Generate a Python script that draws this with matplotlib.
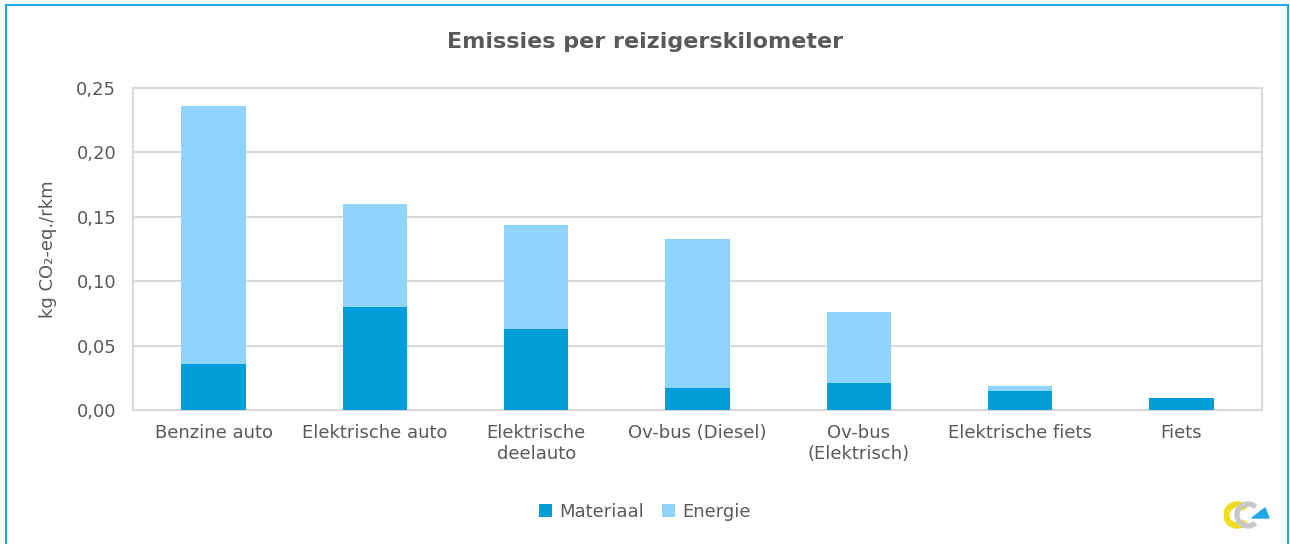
import matplotlib
matplotlib.use("Agg")
import matplotlib.pyplot as plt
import numpy as np
from matplotlib.patches import Rectangle, Wedge, Polygon

categories = ["Benzine auto", "Elektrische auto", "Elektrische\ndeelauto",
              "Ov-bus (Diesel)", "Ov-bus\n(Elektrisch)", "Elektrische fiets", "Fiets"]
materiaal = [0.036, 0.080, 0.063, 0.017, 0.021, 0.015, 0.0095]
energie = [0.200, 0.080, 0.081, 0.116, 0.055, 0.0035, 0.0]
yticks = [0.0, 0.05, 0.10, 0.15, 0.20, 0.25]

C_MAT = "#009DD9"
C_EN = "#8FD3FF"
TXT = "#595959"
GRID = "#D9D9D9"

plt.rcParams["font.family"] = ["DejaVu Sans"]

fig = plt.figure(figsize=(12.9, 5.44), dpi=100)
ax = fig.add_axes([133 / 1290, 1 - 410 / 544, (1262 - 133) / 1290, 322 / 544])

x = np.arange(len(categories))
ax.bar(x, materiaal, width=0.4, color=C_MAT, label="Materiaal", zorder=3)
ax.bar(x, energie, width=0.4, bottom=materiaal, color=C_EN, label="Energie", zorder=3)

ax.set_xlim(-0.5, len(categories) - 0.5)
ax.set_ylim(0, 0.25)
ax.set_yticks(yticks)
ax.set_yticklabels([f"{v:.2f}".replace(".", ",") for v in yticks])
ax.set_xticks(x)
ax.set_xticklabels(categories)
ax.tick_params(axis="both", length=0, colors=TXT, labelsize=13)
ax.tick_params(axis="x", pad=10)
ax.tick_params(axis="y", pad=12)
ax.grid(axis="y", color=GRID, linewidth=1.5, zorder=0)
for s in ax.spines.values():
    s.set_color(GRID)
    s.set_linewidth(1.5)

ax.set_ylabel("kg CO\u2082-eq./rkm", color=TXT, fontsize=13, labelpad=14)
fig.text(0.5, 1 - 42 / 544, "Emissies per reizigerskilometer", ha="center", va="center",
         fontsize=16, fontweight="bold", color=TXT)

leg = fig.legend(loc="center", bbox_to_anchor=(0.5, 1 - 512 / 544), ncol=2, frameon=False,
                 fontsize=13, handlelength=0.7, handleheight=0.7, columnspacing=1.0,
                 handletextpad=0.4)
for t in leg.get_texts():
    t.set_color(TXT)

# figure border
fig.patches.append(Rectangle((6 / 1290, -0.01), (1288 - 6) / 1290, 1.01 - 5 / 544,
                             transform=fig.transFigure, fill=False,
                             edgecolor="#22A8E0", linewidth=1.5))

# small logo, bottom right
la = fig.add_axes([1224 / 1290, 1 - 532 / 544, 48 / 1290, 34 / 544])
la.set_xlim(0, 48)
la.set_ylim(0, 34)
la.set_aspect("equal")
la.axis("off")
la.add_patch(Wedge((13, 17), 13, 40, 320, width=5, color="#F2DC1E"))
la.add_patch(Wedge((24, 17), 13, 50, 310, width=4, color="#C8C8C8"))
la.add_patch(Polygon([[28, 14], [45, 14], [41, 24]], color="#1EA8E6"))

fig.savefig("out.png", dpi=100, facecolor="white")
